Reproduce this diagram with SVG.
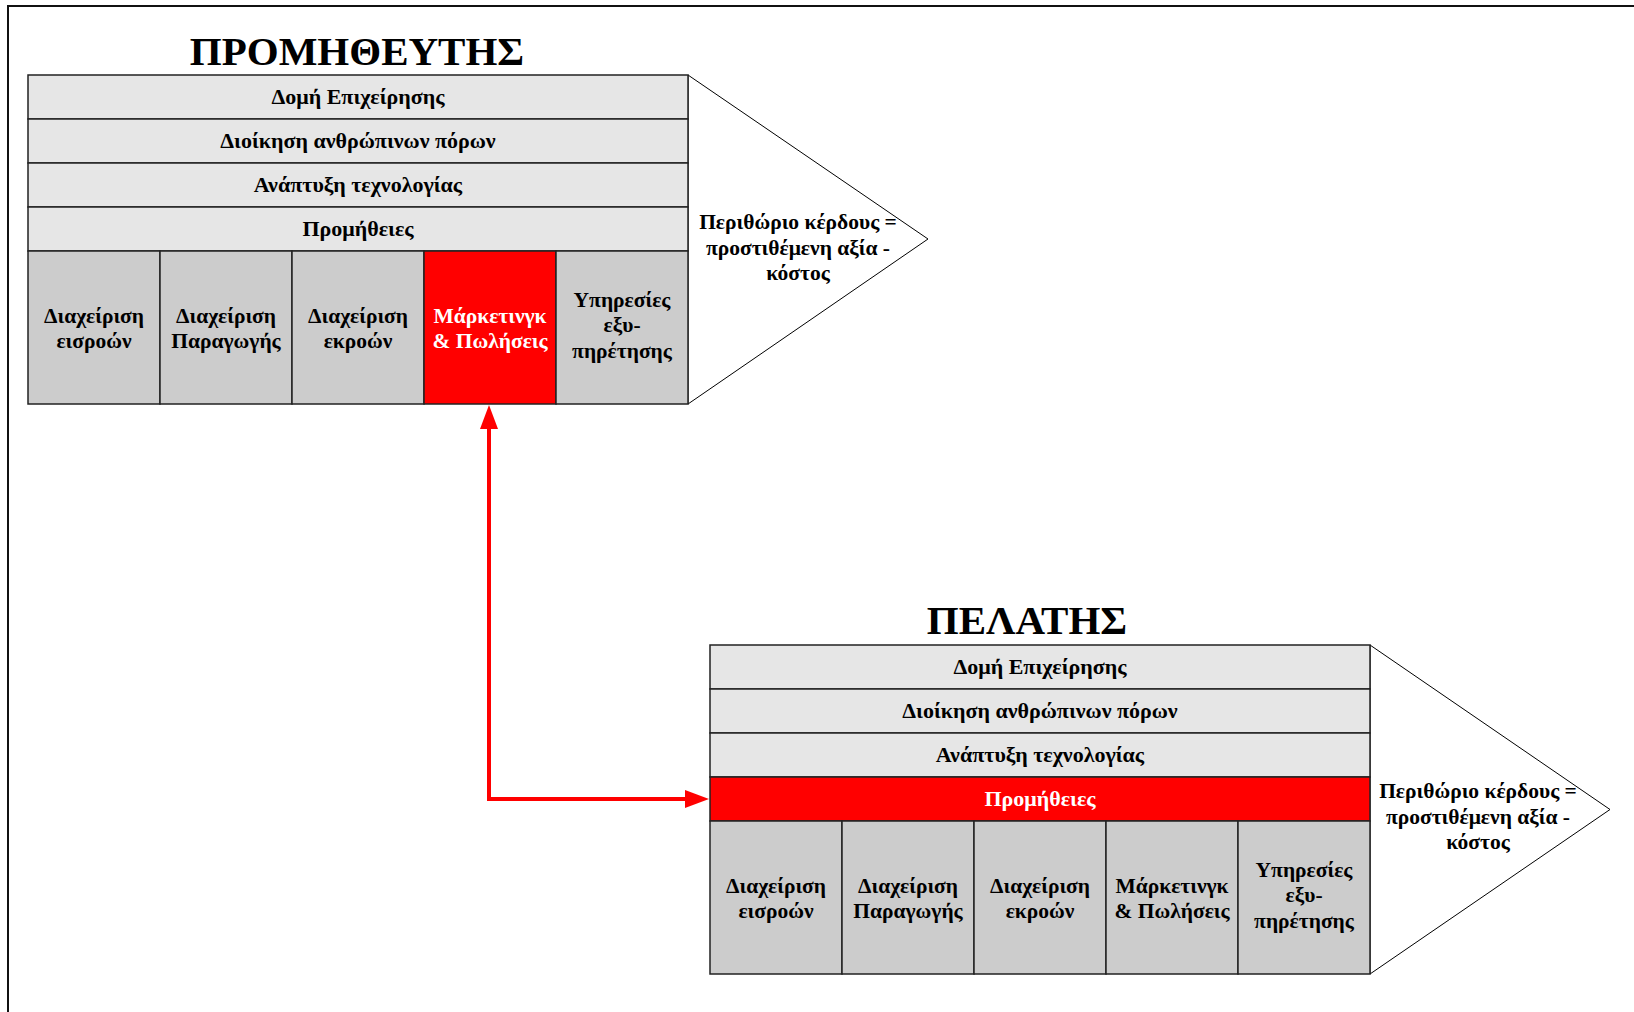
<svg xmlns="http://www.w3.org/2000/svg" width="1634" height="1012" viewBox="0 0 1634 1012">
<style>
.t{font-family:"Liberation Serif","Times New Roman",serif;font-weight:bold;font-size:21.5px;fill:#000;text-anchor:middle}
.r{font-size:22px}
.w{fill:#fff}
.title{font-family:"Liberation Serif","Times New Roman",serif;font-weight:bold;font-size:41px;fill:#000;text-anchor:middle}
.row{fill:#e6e6e6;stroke:#222;stroke-width:1.5}
.cell{fill:#cccccc;stroke:#222;stroke-width:1.5}
.hl{fill:#ff0000;stroke:#222;stroke-width:1.5}
.tri{fill:#fff;stroke:#000;stroke-width:1}
</style>
<defs>
<marker id="ah" markerUnits="userSpaceOnUse" markerWidth="24" markerHeight="18" refX="8" refY="9" orient="auto-start-reverse" viewBox="0 0 24 18">
<path d="M0,0 L24,9 L0,18 z" fill="#ff0000"/>
</marker>
</defs>
<rect width="1634" height="1012" fill="#fff"/>
<path d="M8,1012 L8,6 L1634,6" fill="none" stroke="#111" stroke-width="2"/>

<g id="supplier">
<text class="title" x="357" y="65">ΠΡΟΜΗΘΕΥΤΗΣ</text>
<polygon class="tri" points="688,75 928,239 688,404"/>
<rect class="row" x="28" y="75" width="660" height="44"/>
<rect class="row" x="28" y="119" width="660" height="44"/>
<rect class="row" x="28" y="163" width="660" height="44"/>
<rect class="row" x="28" y="207" width="660" height="44"/>
<rect class="cell" x="28" y="251" width="132" height="153"/>
<rect class="cell" x="160" y="251" width="132" height="153"/>
<rect class="cell" x="292" y="251" width="132" height="153"/>
<rect class="hl" x="424" y="251" width="132" height="153"/>
<rect class="cell" x="556" y="251" width="132" height="153"/>
<text class="t r" x="358" y="104">Δομή Επιχείρησης</text>
<text class="t r" x="358" y="148">Διοίκηση ανθρώπινων πόρων</text>
<text class="t r" x="358" y="192">Ανάπτυξη τεχνολογίας</text>
<text class="t r" x="358" y="236">Προμήθειες</text>
<text class="t" x="94" y="323">Διαχείριση</text>
<text class="t" x="94" y="348">εισροών</text>
<text class="t" x="226" y="323">Διαχείριση</text>
<text class="t" x="226" y="348">Παραγωγής</text>
<text class="t" x="358" y="323">Διαχείριση</text>
<text class="t" x="358" y="348">εκροών</text>
<text class="t w" x="490" y="323">Μάρκετινγκ</text>
<text class="t w" x="490" y="348">&amp; Πωλήσεις</text>
<text class="t" x="622" y="307">Υπηρεσίες</text>
<text class="t" x="622" y="332">εξυ-</text>
<text class="t" x="622" y="358">πηρέτησης</text>
<text class="t" x="798" y="229">Περιθώριο κέρδους =</text>
<text class="t" x="798" y="254.5">προστιθέμενη αξία -</text>
<text class="t" x="798" y="280">κόστος</text>
</g>

<g id="customer">
<text class="title" x="1027" y="634">ΠΕΛΑΤΗΣ</text>
<polygon class="tri" points="1370,645 1610,809.5 1370,974"/>
<rect class="row" x="710" y="645" width="660" height="44"/>
<rect class="row" x="710" y="689" width="660" height="44"/>
<rect class="row" x="710" y="733" width="660" height="44"/>
<rect class="hl" x="710" y="777" width="660" height="44"/>
<rect class="cell" x="710" y="821" width="132" height="153"/>
<rect class="cell" x="842" y="821" width="132" height="153"/>
<rect class="cell" x="974" y="821" width="132" height="153"/>
<rect class="cell" x="1106" y="821" width="132" height="153"/>
<rect class="cell" x="1238" y="821" width="132" height="153"/>
<text class="t r" x="1040" y="674">Δομή Επιχείρησης</text>
<text class="t r" x="1040" y="718">Διοίκηση ανθρώπινων πόρων</text>
<text class="t r" x="1040" y="762">Ανάπτυξη τεχνολογίας</text>
<text class="t r w" x="1040" y="806">Προμήθειες</text>
<text class="t" x="776" y="893">Διαχείριση</text>
<text class="t" x="776" y="918">εισροών</text>
<text class="t" x="908" y="893">Διαχείριση</text>
<text class="t" x="908" y="918">Παραγωγής</text>
<text class="t" x="1040" y="893">Διαχείριση</text>
<text class="t" x="1040" y="918">εκροών</text>
<text class="t" x="1172" y="893">Μάρκετινγκ</text>
<text class="t" x="1172" y="918">&amp; Πωλήσεις</text>
<text class="t" x="1304" y="877">Υπηρεσίες</text>
<text class="t" x="1304" y="902">εξυ-</text>
<text class="t" x="1304" y="928">πηρέτησης</text>
<text class="t" x="1478" y="798">Περιθώριο κέρδους =</text>
<text class="t" x="1478" y="823.5">προστιθέμενη αξία -</text>
<text class="t" x="1478" y="849">κόστος</text>
</g>

<g id="connectors">
<path d="M489,421 L489,799 L693,799" fill="none" stroke="#ff0000" stroke-width="4" marker-start="url(#ah)" marker-end="url(#ah)"/>
</g>
</svg>
